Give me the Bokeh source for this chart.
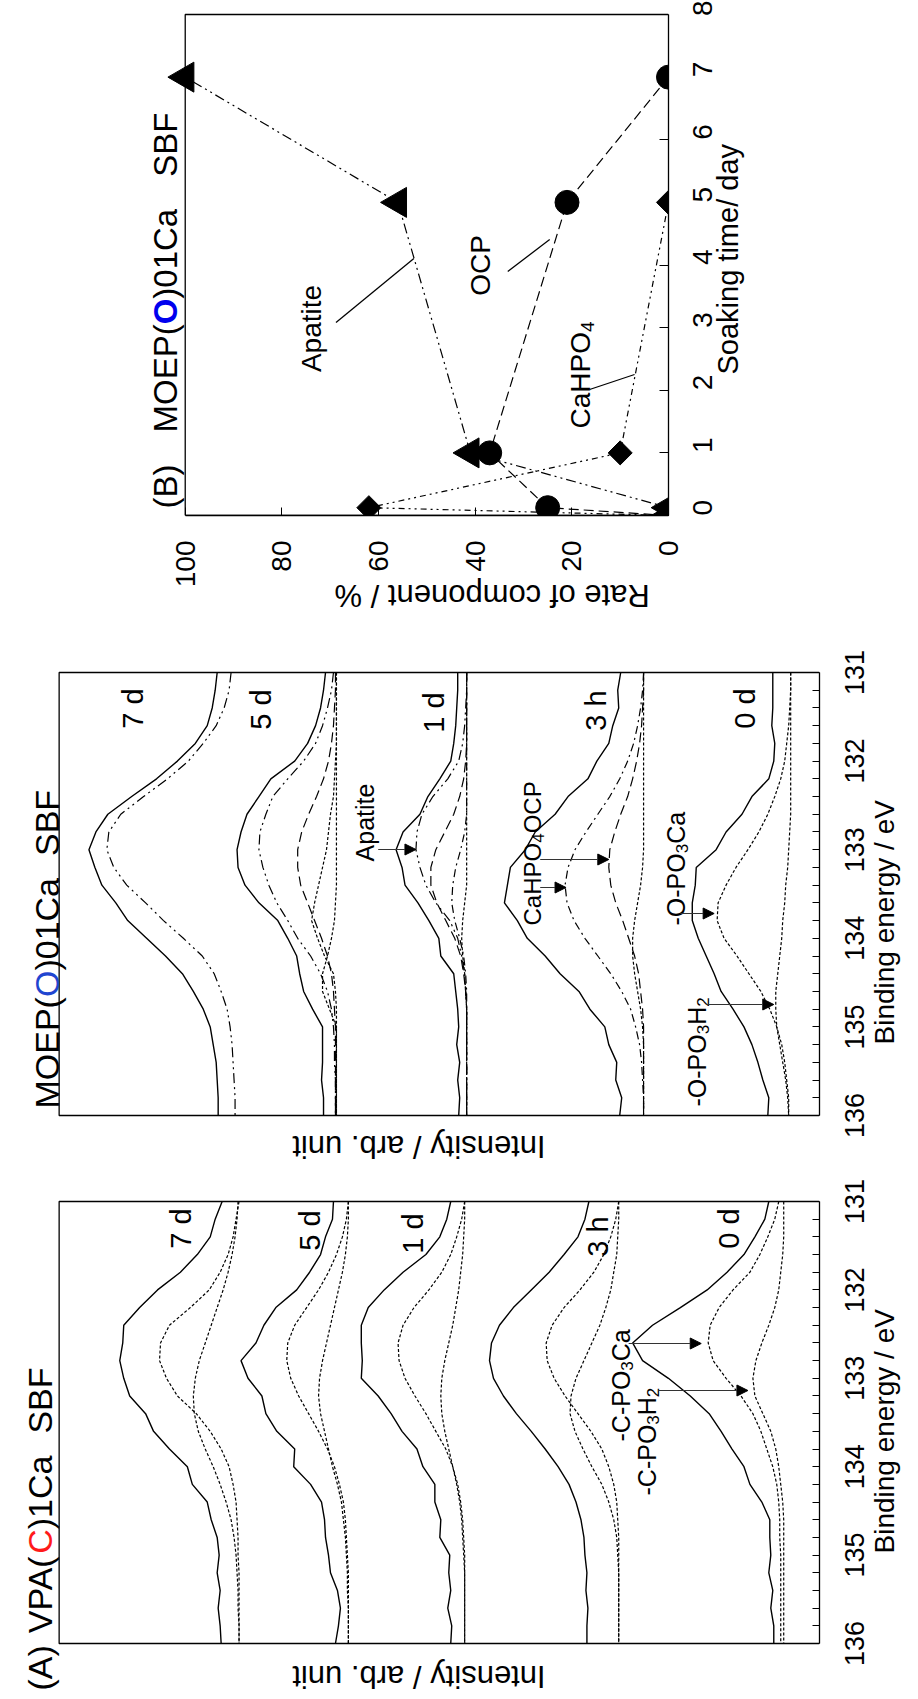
import math
from bokeh.plotting import figure
from bokeh.layouts import column, row
from bokeh.models import (Range1d, LinearAxis, FixedTicker, Label, Arrow, NormalHead, Spacer,
                          CustomJSTickFormatter)
from bokeh.embed import file_html
from bokeh.resources import INLINE

FONT = "Liberation Sans"

# ---------------- data ----------------
be = [131.0, 131.2, 131.4, 131.6, 131.8, 132.0, 132.2, 132.4, 132.6, 132.8, 133.0, 133.2, 133.4,
      133.6, 133.8, 134.0, 134.2, 134.4, 134.6, 134.8, 135.0, 135.2, 135.4, 135.6, 135.8, 136.0]

# (A) VPA(C)1Ca SBF  -- intensity (arb. unit) along binding energy grid `be`
vpa_7d_meas = [601, 608, 613, 626, 643, 666, 684, 700, 701, 704, 700, 694, 678, 670, 654, 636, 631, 616, 612, 606, 604, 606, 603, 605, 603, 602]
vpa_7d_ca = [584, 587, 590, 595, 603, 614, 633, 654, 663, 664, 657, 646, 627, 613, 602, 594, 590, 587, 586, 585, 585, 584, 584, 584, 584, 584]
vpa_7d_h2 = [585, 586, 588, 591, 595, 600, 606, 612, 618, 624, 628, 630, 629, 625, 618, 610, 603, 597, 592, 589, 587, 586, 585, 585, 584, 584]
vpa_5d_meas = [489, 490, 497, 502, 513, 526, 547, 559, 567, 582, 575, 561, 557, 546, 528, 529, 512, 501, 498, 497, 494, 492, 485, 482, 484, 487]
vpa_5d_ca = [474, 476, 480, 486, 494, 504, 516, 528, 535, 536, 532, 524, 514, 504, 495, 488, 483, 479, 477, 476, 475, 474, 474, 474, 474, 474]
vpa_5d_h2 = [474, 474, 475, 477, 480, 484, 488, 492, 496, 500, 503, 504, 502, 498, 494, 490, 485, 481, 479, 477, 476, 475, 475, 474, 474, 474]
vpa_1d_meas = [371, 375, 382, 396, 419, 438, 454, 461, 461, 460, 461, 444, 431, 420, 405, 399, 387, 387, 381, 382, 372, 373, 371, 374, 370, 371]
vpa_1d_ca = [357, 360, 365, 371, 380, 393, 408, 419, 424, 423, 417, 407, 396, 386, 376, 369, 364, 361, 359, 358, 357, 357, 357, 357, 357, 357]
vpa_1d_h2 = [357, 357, 358, 359, 361, 363, 366, 369, 373, 377, 380, 381, 380, 377, 373, 369, 365, 362, 360, 359, 358, 357, 357, 357, 357, 357]
vpa_3h_meas = [232, 236, 243, 257, 272, 290, 308, 322, 330, 332, 328, 318, 305, 290, 276, 263, 252, 245, 240, 237, 236, 234, 235, 233, 234, 234]
vpa_3h_ca = [202, 205, 210, 217, 227, 241, 257, 269, 275, 274, 267, 256, 243, 230, 219, 212, 207, 204, 203, 202, 202, 202, 202, 202, 202, 202]
vpa_3h_h2 = [202, 202, 203, 204, 207, 210, 215, 221, 229, 237, 245, 250, 251, 246, 238, 229, 219, 212, 207, 204, 203, 202, 202, 202, 202, 202]
vpa_0d_meas = [51, 55, 65, 76, 93, 113, 140, 168, 188, 178, 152, 130, 111, 99, 88, 76, 70, 58, 50, 50, 49, 51, 47, 49, 46, 46]
vpa_0d_ca = [41, 45, 52, 60, 70, 87, 101, 110, 112, 107, 94, 79, 67, 59, 53, 47, 43, 41, 40, 40, 39, 39, 39, 39, 39, 39]
vpa_0d_h2 = [36, 36, 36, 37, 39, 41, 45, 51, 58, 64, 67, 65, 57, 49, 44, 41, 39, 37, 36, 36, 36, 36, 36, 36, 36, 36]

# MOEP(O)01Ca SBF
moep_7d_meas = [606, 608, 611, 616, 628, 646, 667, 692, 716, 728, 735, 729, 722, 708, 696, 677, 658, 641, 630, 620, 613, 610, 607, 606, 605, 605]
moep_7d_apa = [592, 594, 599, 607, 620, 635, 656, 680, 703, 715, 717, 710, 697, 678, 660, 640, 621, 609, 602, 596, 593, 591, 590, 589, 588, 588]
moep_5d_meas = [497, 499, 502, 507, 515, 528, 552, 564, 576, 582, 586, 585, 578, 564, 545, 535, 526, 523, 519, 510, 500, 500, 500, 501, 499, 499]
moep_5d_apa = [489, 491, 495, 500, 507, 519, 535, 550, 557, 563, 564, 560, 554, 546, 535, 525, 512, 502, 495, 491, 489, 488, 488, 487, 487, 487]
moep_5d_ocp = [487, 487, 488, 489, 491, 494, 499, 506, 514, 521, 525, 525, 522, 515, 508, 501, 495, 491, 489, 488, 487, 487, 487, 487, 487, 487]
moep_5d_oca = [486, 486, 486, 486, 486, 487, 488, 489, 492, 494, 496, 500, 504, 508, 511, 505, 498, 489, 487, 486, 486, 486, 486, 486, 486, 486]
moep_5d_oh2 = [486, 486, 486, 486, 486, 486, 486, 486, 486, 486, 486, 486, 486, 487, 488, 491, 495, 500, 500, 493, 486, 486, 486, 486, 486, 486]
moep_1d_meas = [364, 364, 365, 366, 368, 371, 382, 394, 402, 419, 426, 420, 417, 404, 393, 383, 381, 368, 366, 364, 363, 365, 362, 364, 362, 363]
moep_1d_apa = [355, 355, 356, 357, 359, 363, 374, 389, 400, 405, 406, 402, 396, 386, 372, 364, 360, 357, 356, 355, 355, 355, 355, 355, 355, 355]
moep_1d_ocp = [355, 355, 355, 355, 355, 356, 358, 362, 368, 377, 386, 391, 391, 385, 376, 367, 361, 358, 356, 355, 355, 355, 355, 355, 355, 355]
moep_1d_cah = [355, 355, 355, 355, 355, 355, 355, 355, 355, 357, 361, 366, 369, 370, 367, 362, 358, 356, 355, 355, 355, 355, 355, 355, 355, 355]
moep_1d_oca = [355, 355, 355, 355, 355, 355, 355, 355, 355, 355, 355, 355, 355, 357, 359, 360, 359, 357, 356, 355, 355, 355, 355, 355, 355, 355]
moep_3h_meas = [200, 203, 202, 208, 212, 224, 233, 253, 266, 286, 296, 311, 314, 317, 304, 294, 276, 261, 242, 231, 216, 212, 204, 205, 199, 201]
moep_3h_cah = [177, 178, 180, 183, 187, 193, 201, 211, 223, 235, 246, 253, 256, 254, 247, 236, 223, 210, 199, 190, 185, 181, 179, 178, 177, 177]
moep_3h_ocp = [177, 177, 178, 179, 181, 184, 188, 193, 200, 206, 211, 212, 210, 205, 198, 192, 186, 182, 180, 178, 177, 177, 177, 177, 177, 177]
moep_3h_oca = [177, 177, 177, 177, 177, 177, 177, 177, 177, 177, 177, 178, 180, 183, 186, 188, 188, 186, 183, 180, 178, 177, 177, 177, 177, 177]
moep_0d_meas = [47, 47, 47, 48, 45, 46, 51, 68, 78, 94, 104, 124, 125, 128, 128, 122, 114, 106, 99, 87, 76, 68, 62, 57, 51, 52]
moep_0d_oca = [29, 29, 30, 31, 33, 35, 39, 45, 52, 61, 72, 84, 94, 102, 103, 96, 83, 71, 59, 50, 43, 38, 35, 33, 31, 31]
moep_0d_oh2 = [29, 29, 29, 29, 29, 29, 29, 29, 29, 30, 31, 32, 34, 35, 37, 38, 40, 42, 44, 44, 43, 40, 37, 34, 32, 31]

# (B) rate of component vs soaking time
days = [0, 0.125, 1, 5, 7]
apatite = [0, 0, 41, 56, 100]
ocp = [0, 25, 37, 21, 0]
days_cahpo4 = [0, 0.125, 1, 5]
cahpo4 = [0, 62, 10, 0]

be_ticks = [131, 132, 133, 134, 135, 136]
be_minor = [131.2, 131.4, 131.6, 131.8, 132.2, 132.4, 132.6, 132.8, 133.2, 133.4, 133.6, 133.8,
            134.2, 134.4, 134.6, 134.8, 135.2, 135.4, 135.6, 135.8]
rate_ticks = [0, 20, 40, 60, 80, 100]
day_ticks = [0, 1, 2, 3, 4, 5, 6, 7, 8]

# ---------------- helpers ----------------
WID = {' ': .278, '(': .333, ')': .333, '-': .333, '/': .278, '.': .278, '%': .889,
       'A': .667, 'B': .667, 'C': .722, 'E': .667, 'F': .611, 'H': .722, 'M': .833, 'O': .778,
       'P': .667, 'S': .667, 'V': .667, 'a': .556, 'b': .556, 'd': .556, 'e': .556, 'i': .222,
       'p': .556, 't': .278, 'h': .556, 'n': .556, 'g': .556, 'r': .333, 'y': .5}


def tw(s, size):
    return sum(WID.get(c, .556) for c in s) * size


def lab(p, x, y, text, size, angle=0.0, color="black", bold=False, align="left", baseline="alphabetic"):
    p.add_layout(Label(x=x, y=y, text=text, angle=angle, text_font=FONT, text_font_size=f"{size}px",
                       text_color=color, text_font_style="bold" if bold else "normal",
                       text_align=align, text_baseline=baseline))


def rpieces(p, conv, xb, ys, pieces):
    """text rotated 90deg (reading bottom to top); xb = baseline x px, ys = start y px.
    pieces: (text, size, color, bold, dx) or (None, gap_px)"""
    y = ys
    for pc in pieces:
        if pc[0] is None:
            y -= pc[1]
            continue
        txt, size, color, bold, dx = pc
        X, Y = conv(xb + dx, y)
        lab(p, X, Y, txt, size, angle=math.pi / 2, color=color, bold=bold)
        y -= tw(txt, size)


def set_label_orient(ax, val):
    try:
        ax.axis_label_orientation = val
    except Exception:
        pass


def style_axis(ax, size=27, standoff=22, tick=7):
    ax.major_label_orientation = math.pi / 2
    ax.major_tick_in = tick
    ax.major_tick_out = 0
    ax.minor_tick_in = tick
    ax.minor_tick_out = 0
    ax.major_label_text_font = FONT
    ax.major_label_text_font_size = f"{size}px"
    ax.major_label_text_color = "black"
    ax.major_label_standoff = standoff
    ax.axis_line_color = "black"
    ax.axis_line_width = 1.3
    ax.major_tick_line_color = "black"
    ax.minor_tick_line_color = "black"
    ax.axis_label_text_font = FONT
    ax.axis_label_text_font_style = "normal"
    ax.axis_label_text_color = "black"


def text_axis(ticks, code, size, standoff):
    """an axis without line/ticks that only carries rotated texts"""
    ax = LinearAxis(ticker=FixedTicker(ticks=ticks), formatter=CustomJSTickFormatter(code=code))
    ax.major_label_orientation = math.pi / 2
    ax.major_tick_in = 0
    ax.major_tick_out = 0
    ax.minor_tick_in = 0
    ax.minor_tick_out = 0
    ax.axis_line_color = None
    ax.major_tick_line_color = None
    ax.minor_tick_line_color = None
    ax.major_label_text_font = FONT
    ax.major_label_text_font_size = f"{size}px"
    ax.major_label_text_color = "black"
    ax.major_label_standoff = standoff
    return ax


SOLID = dict(line_color="black", line_width=1.4)
SHORT = dict(line_color="black", line_width=1.2, line_dash="3 2")
APA = dict(line_color="black", line_width=1.2, line_dash="10 4 2 4 2 4")
OCPS = dict(line_color="black", line_width=1.2, line_dash="10 5")
CAH = dict(line_color="black", line_width=1.2, line_dash="8 4 2 4")
BOX = dict(line_color="black", line_width=1.3)


def make_spec(height, fig_top, be131_py, be136_py, label_start_py):
    ppe = (be136_py - be131_py) / 5.0
    y0 = 136 + (fig_top + height - be136_py) / ppe
    y1 = 131 - (be131_py - fig_top) / ppe
    p = figure(width=918, height=height, x_range=Range1d(824, 0), y_range=Range1d(y0, y1),
               output_backend="svg", toolbar_location=None, x_axis_location=None, y_axis_location=None,
               min_border_left=0, min_border_right=94, min_border_top=0, min_border_bottom=0)
    p.grid.grid_line_color = None
    p.outline_line_color = None
    p.background_fill_color = "white"
    p.border_fill_color = "white"
    # tick marks
    ax = LinearAxis(ticker=FixedTicker(ticks=be_ticks, minor_ticks=be_minor), bounds=(131, 136),
                    formatter=CustomJSTickFormatter(code="return ''"))
    style_axis(ax, standoff=0)
    p.add_layout(ax, "right")
    # tick labels, centred on their ticks (texts run upward from the anchor)
    half = round(tw("131", 27) / 2 / ppe, 4)
    ax2 = text_axis([t + half for t in be_ticks], "return String(Math.round(tick - %s))" % half, 27, 35)
    p.add_layout(ax2, "right")
    # axis title
    anchor = round(131 + (label_start_py - be131_py) / ppe, 4)
    ax3 = text_axis([anchor], "return 'Binding energy / eV'", 28, 8)
    p.add_layout(ax3, "right")
    # panel box (left, top and bottom edges; right edge is the axis line)
    p.line([0, 765, 765, 0], [131, 131, 136, 136], **BOX)

    def conv(px, py):
        return 824 - px, 131 + (py - be131_py) / ppe
    return p, conv


def arrow(p, conv, x0, y0, x1, y1):
    X0, Y0 = conv(x0, y0)
    X1, Y1 = conv(x1, y1)
    p.add_layout(Arrow(end=NormalHead(size=11, fill_color="black", line_color="black", line_width=1),
                       x_start=X0, y_start=Y0, x_end=X1, y_end=Y1, line_color="#333333", line_width=1))


# ---------------- (B) panel ----------------
RPX = 4.84     # px per %
DPX = 62.625   # px per day
pb = figure(width=763, height=640, x_range=Range1d(100 + 185 / RPX, 0), y_range=Range1d(0, 515 / DPX),
            output_backend="svg", toolbar_location=None, x_axis_location=None, y_axis_location=None,
            min_border_left=0, min_border_right=94, min_border_top=0, min_border_bottom=125)
pb.grid.grid_line_color = None
pb.outline_line_color = None
pb.border_fill_color = "white"
axb = LinearAxis(ticker=FixedTicker(ticks=rate_ticks), bounds=(0, 100))
style_axis(axb, size=28, standoff=25, tick=8)
axb.axis_label = "Rate of component / %"
axb.axis_label_text_font_size = "31px"
axb.axis_label_standoff = 5
set_label_orient(axb, math.pi)
pb.add_layout(axb, "below")
ayb = LinearAxis(ticker=FixedTicker(ticks=day_ticks), bounds=(0, 8))
style_axis(ayb, size=28, standoff=34, tick=9)
pb.add_layout(ayb, "right")
ayb2 = text_axis([round((515 - 374) / DPX, 4)], "return 'Soaking time/ day'", 29, 4)
pb.add_layout(ayb2, "right")
pb.line([0, 100, 100, 0], [8, 8, 0, 0], **BOX)


def bconv(px, py):
    return (669 - px) / RPX, (515 - py) / DPX


pb.line(apatite, days, **APA)
pb.line(ocp, days, **OCPS)
pb.line(cahpo4, days_cahpo4, line_color="black", line_width=1.2, line_dash="6 4 2 4 2 4")
pb.scatter(apatite, days, marker="triangle", size=30, angle=math.pi / 2, color="black")
pb.scatter(ocp, days, marker="circle", size=24, color="black")
pb.scatter(cahpo4, days_cahpo4, marker="square", size=17, angle=math.pi / 4, color="black")

for (a, b, c, d) in [(336, 322, 414, 258), (508, 271, 550, 239), (590, 389, 635, 374)]:
    X0, Y0 = bconv(a, b)
    X1, Y1 = bconv(c, d)
    pb.segment(x0=[X0], y0=[Y0], x1=[X1], y1=[Y1], line_color="black", line_width=1.3)

X, Y = bconv(311, 328)
lab(pb, X, Y, "Apatite", 28, angle=math.pi / 2, align="center", baseline="middle")
X, Y = bconv(481, 265)
lab(pb, X, Y, "OCP", 28, angle=math.pi / 2, align="center", baseline="middle")
rpieces(pb, bconv, 581, 428, [("CaHPO", 28, "black", False, 0), ("4", 19, "black", False, 7)])
rpieces(pb, bconv, 165, 508, [("(B)", 33, "black", False, 0), (None, 32), ("MOEP(", 33, "black", False, 0),
                              ("O", 33, "#0000ee", True, 0), (")01Ca", 33, "black", False, 0), (None, 32),
                              ("SBF", 33, "black", False, 0)])

# ---------------- MOEP panel ----------------
pm, mconv = make_spec(527, 640, 672, 1115, 1044)
for s, sty in [(moep_7d_apa, APA), (moep_7d_meas, SOLID),
               (moep_5d_oca, SHORT), (moep_5d_oh2, SHORT), (moep_5d_ocp, OCPS), (moep_5d_apa, APA), (moep_5d_meas, SOLID),
               (moep_1d_oca, SHORT), (moep_1d_cah, CAH), (moep_1d_ocp, OCPS), (moep_1d_apa, APA), (moep_1d_meas, SOLID),
               (moep_3h_oca, SHORT), (moep_3h_ocp, OCPS), (moep_3h_cah, CAH), (moep_3h_meas, SOLID),
               (moep_0d_oh2, SHORT), (moep_0d_oca, SHORT), (moep_0d_meas, SOLID)]:
    pm.line(s, be, **sty)

for txt, x, y in [("7 d", 133, 708), ("5 d", 262, 709), ("1 d", 436, 712), ("3 h", 599, 710), ("0 d", 749, 708)]:
    X, Y = mconv(x, y)
    lab(pm, X, Y, txt, 29, angle=math.pi / 2, align="center", baseline="middle")
X, Y = mconv(367, 822)
lab(pm, X, Y, "Apatite", 25, angle=math.pi / 2, align="center", baseline="middle")
arrow(pm, mconv, 380, 849, 418, 849)
rpieces(pm, mconv, 535, 925, [("CaHPO", 24, "black", False, 0), ("4", 17, "black", False, 6),
                              (" OCP", 24, "black", False, 0)])
arrow(pm, mconv, 543, 859, 612, 859)
arrow(pm, mconv, 543, 887, 569, 887)
rpieces(pm, mconv, 680, 925, [("-O-PO", 25, "black", False, 0), ("3", 17, "black", False, 6),
                              ("Ca", 25, "black", False, 0)])
arrow(pm, mconv, 684, 913, 718, 913)
rpieces(pm, mconv, 701, 1106, [("-O-PO", 25, "black", False, 0), ("3", 17, "black", False, 6),
                               ("H", 25, "black", False, 0), ("2", 17, "black", False, 6)])
arrow(pm, mconv, 710, 1004, 778, 1004)
rpieces(pm, mconv, 47, 1108, [("MOEP(", 34, "black", False, 0), ("O", 34, "#1f45d0", False, 0),
                              (")01Ca", 34, "black", False, 0), (None, 22), ("SBF", 34, "black", False, 0)])
X, Y = mconv(421, 1146)
lab(pm, X, Y, "Intensity / arb. unit", 31, angle=math.pi, align="center", baseline="middle")

# ---------------- (A) VPA panel ----------------
pa, aconv = make_spec(532, 1167, 1201, 1643, 1553)
for s, sty in [(vpa_7d_ca, SHORT), (vpa_7d_h2, SHORT), (vpa_7d_meas, SOLID),
               (vpa_5d_ca, SHORT), (vpa_5d_h2, SHORT), (vpa_5d_meas, SOLID),
               (vpa_1d_ca, SHORT), (vpa_1d_h2, SHORT), (vpa_1d_meas, SOLID),
               (vpa_3h_ca, SHORT), (vpa_3h_h2, SHORT), (vpa_3h_meas, SOLID),
               (vpa_0d_ca, SHORT), (vpa_0d_h2, SHORT), (vpa_0d_meas, SOLID)]:
    pa.line(s, be, **sty)

for txt, x, y in [("7 d", 182, 1228), ("5 d", 311, 1230), ("1 d", 415, 1233), ("3 h", 601, 1236), ("0 d", 733, 1228)]:
    X, Y = aconv(x, y)
    lab(pa, X, Y, txt, 29, angle=math.pi / 2, align="center", baseline="middle")
rpieces(pa, aconv, 624, 1441, [("-C-PO", 25, "black", False, 0), ("3", 17, "black", False, 6),
                               ("Ca", 25, "black", False, 0)])
arrow(pa, aconv, 632, 1343, 705, 1343)
rpieces(pa, aconv, 650, 1495, [("-C-PO", 25, "black", False, 0), ("3", 17, "black", False, 6),
                               ("H", 25, "black", False, 0), ("2", 17, "black", False, 6)])
arrow(pa, aconv, 662, 1390, 752, 1390)
rpieces(pa, aconv, 40, 1690, [("(A)", 34, "black", False, 0), (None, 12), ("VPA(", 34, "black", False, 0),
                              ("C", 34, "#ff1a1a", False, 0), (")1Ca", 34, "black", False, 0), (None, 22),
                              ("SBF", 34, "black", False, 0)])
X, Y = aconv(421, 1676)
lab(pa, X, Y, "Intensity / arb. unit", 31, angle=math.pi, align="center", baseline="middle")

layout = column(row(pb, Spacer(width=155, height=640)), pm, pa, spacing=0)
open("out.html", "w").write(file_html(layout, INLINE))
